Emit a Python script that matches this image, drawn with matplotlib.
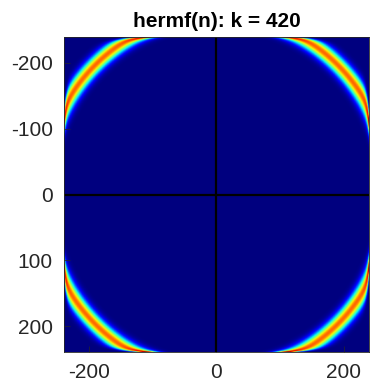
import numpy as np
import matplotlib.pyplot as plt

# sample index range on both axes
n_min, n_max = -239, 239
# ring: radius, spread, peak level
ring_radius = 274
ring_sigma = 8.0
ring_peak = 0.8
# near the image border the ring kinks inward, narrows and gets brighter
edge_radius_drop = 10
edge_sigma_cut = 0.4
edge_peak = 1.0
edge_decay = 3.5

x_ticks = [-200, 0, 200]
y_ticks = [-200, -100, 0, 100, 200]
title = 'hermf(n): k = 420'

n = np.arange(n_min, n_max + 1)
X, Y = np.meshgrid(n, n)
R = np.hypot(X, Y)
dist_edge = np.minimum(n_max - np.abs(X), n_max - np.abs(Y))
edge_w = np.exp(-dist_edge / edge_decay)
level = ring_peak + (edge_peak - ring_peak) * edge_w
radius = ring_radius - edge_radius_drop * edge_w
sigma = ring_sigma * (1 - edge_sigma_cut * edge_w)
Z = level * np.exp(-0.5 * ((R - radius) / sigma) ** 2)

plt.rcParams['font.family'] = ['Liberation Sans', 'DejaVu Sans']
plt.rcParams['axes.unicode_minus'] = False

fig = plt.figure(figsize=(3.72, 3.86), dpi=100)
ax = fig.add_axes([64 / 372, 1 - 352 / 386, 305 / 372, 315 / 386])
ax.imshow(Z, cmap='jet', vmin=0, vmax=1, aspect='auto', interpolation='bilinear',
          extent=[n_min - 0.5, n_max + 0.5, n_max + 0.5, n_min - 0.5])
ax.axvline(0, color='k', lw=1.6)
ax.axhline(0, color='k', lw=1.6)

ax.set_xticks(x_ticks)
ax.set_yticks(y_ticks)
ax.tick_params(direction='in', length=4, width=0.5, colors='#262626',
               labelsize=15, pad=8)
for sp in ax.spines.values():
    sp.set_color('#262626')
    sp.set_linewidth(0.6)

ax.set_title(title, fontsize=15, fontweight='bold', pad=7)

fig.savefig('out.png', dpi=100)
